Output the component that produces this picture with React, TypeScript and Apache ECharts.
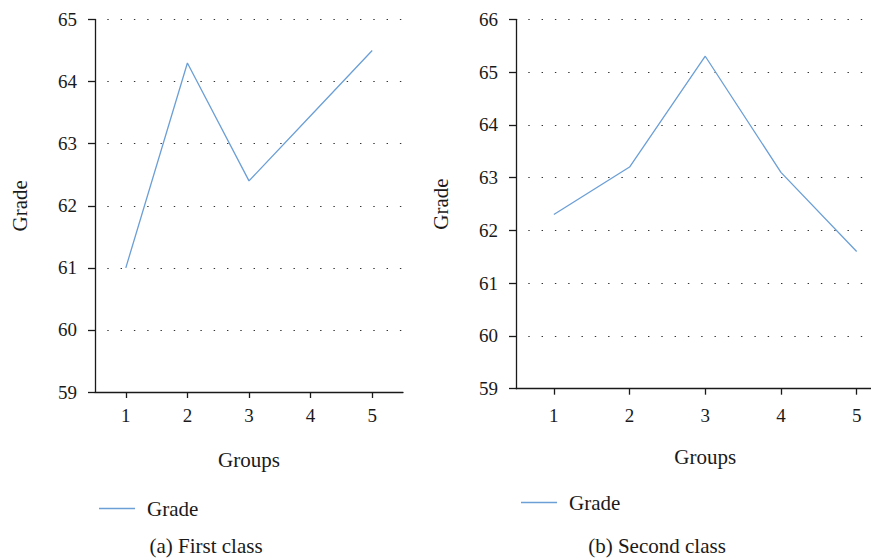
import React, { useEffect, useRef } from "react";
import * as echarts from "echarts";

const groups = ["1", "2", "3", "4", "5"];
const firstClass = [61.0, 64.3, 62.4, 63.45, 64.5];
const secondClass = [62.3, 63.2, 65.3, 63.1, 61.6];
const seriesName = "Grade";
const xName = "Groups";
const yName = "Grade";
const captions = ["(a) First class", "(b) Second class"];
const firstRange = [59, 65];
const secondRange = [59, 66];

const FONT = "'Liberation Serif', 'Times New Roman', serif";
const LINE = "#6b9fd6";
const INK = "#1a1a1a";

function xAxisCfg(gridIndex: number, margin: number) {
  return {
    type: "category",
    gridIndex,
    data: groups,
    boundaryGap: true,
    name: xName,
    nameLocation: "middle",
    nameGap: 68,
    nameTextStyle: { fontFamily: FONT, fontSize: 21, color: INK, verticalAlign: "middle" },
    axisLine: { show: true, lineStyle: { color: INK, width: 1.3 } },
    axisTick: { show: true, alignWithLabel: true, length: 6, lineStyle: { color: INK, width: 1.3 } },
    axisLabel: { fontFamily: FONT, fontSize: 19, color: INK, margin },
    splitLine: { show: false },
  };
}

function yAxisCfg(gridIndex: number, range: number[]) {
  return {
    type: "value",
    gridIndex,
    min: range[0],
    max: range[1],
    interval: 1,
    name: yName,
    nameLocation: "middle",
    nameGap: 75,
    nameRotate: 90,
    nameTextStyle: { fontFamily: FONT, fontSize: 21, color: INK, verticalAlign: "middle" },
    axisLine: { show: true, lineStyle: { color: INK, width: 1.3 } },
    axisTick: { show: true, length: 7, lineStyle: { color: INK, width: 1.3 } },
    axisLabel: { fontFamily: FONT, fontSize: 19, color: INK, margin: 18 },
    splitLine: {
      show: true,
      lineStyle: { color: "#333", width: 1.2, type: [1.4, 11.9], dashOffset: 1.4 },
    },
  };
}

export default function App() {
  const ref = useRef<HTMLDivElement>(null);
  useEffect(() => {
    if (!ref.current) return;
    const chart = echarts.init(ref.current, undefined, { renderer: "svg" });
    chart.setOption({
      animation: false,
      backgroundColor: "#ffffff",
      grid: [
        { left: 95, top: 19.5, width: 308, height: 372.5, containLabel: false },
        { left: 516, top: 19.3, width: 378.5, height: 369.4, containLabel: false },
      ],
      xAxis: [xAxisCfg(0, 14), xAxisCfg(1, 17)],
      yAxis: [yAxisCfg(0, firstRange), yAxisCfg(1, secondRange)],
      legend: [
        {
          left: 94,
          top: 493,
          data: [seriesName],
          icon: "rect",
          itemWidth: 36,
          itemHeight: 1.4,
          itemStyle: { color: LINE },
          textStyle: { fontFamily: FONT, fontSize: 21, color: INK, padding: [0, 0, 0, 7] },
          selectedMode: false,
        },
        {
          left: 516,
          top: 487,
          data: [seriesName],
          icon: "rect",
          itemWidth: 36,
          itemHeight: 1.4,
          itemStyle: { color: LINE },
          textStyle: { fontFamily: FONT, fontSize: 21, color: INK, padding: [0, 0, 0, 7] },
          selectedMode: false,
        },
      ],
      graphic: [
        {
          type: "text",
          x: 206,
          y: 546,
          style: {
            text: captions[0],
            fontFamily: FONT,
            fontSize: 21,
            fill: INK,
            align: "center",
            verticalAlign: "middle",
          },
        },
        {
          type: "text",
          x: 657,
          y: 546,
          style: {
            text: captions[1],
            fontFamily: FONT,
            fontSize: 21,
            fill: INK,
            align: "center",
            verticalAlign: "middle",
          },
        },
      ],
      series: [
        {
          name: seriesName,
          type: "line",
          xAxisIndex: 0,
          yAxisIndex: 0,
          data: firstClass,
          showSymbol: false,
          symbol: "none",
          lineStyle: { color: LINE, width: 1.3 },
          itemStyle: { color: LINE },
        },
        {
          name: seriesName,
          type: "line",
          xAxisIndex: 1,
          yAxisIndex: 1,
          data: secondClass,
          showSymbol: false,
          symbol: "none",
          lineStyle: { color: LINE, width: 1.3 },
          itemStyle: { color: LINE },
        },
      ],
    });
    return () => chart.dispose();
  }, []);
  return (
    <div
      style={{
        position: "fixed",
        left: 0,
        top: 0,
        width: 871,
        height: 558,
        overflow: "hidden",
        background: "#ffffff",
      }}
    >
      <div ref={ref} style={{ width: 900, height: 558 }} />
    </div>
  );
}
